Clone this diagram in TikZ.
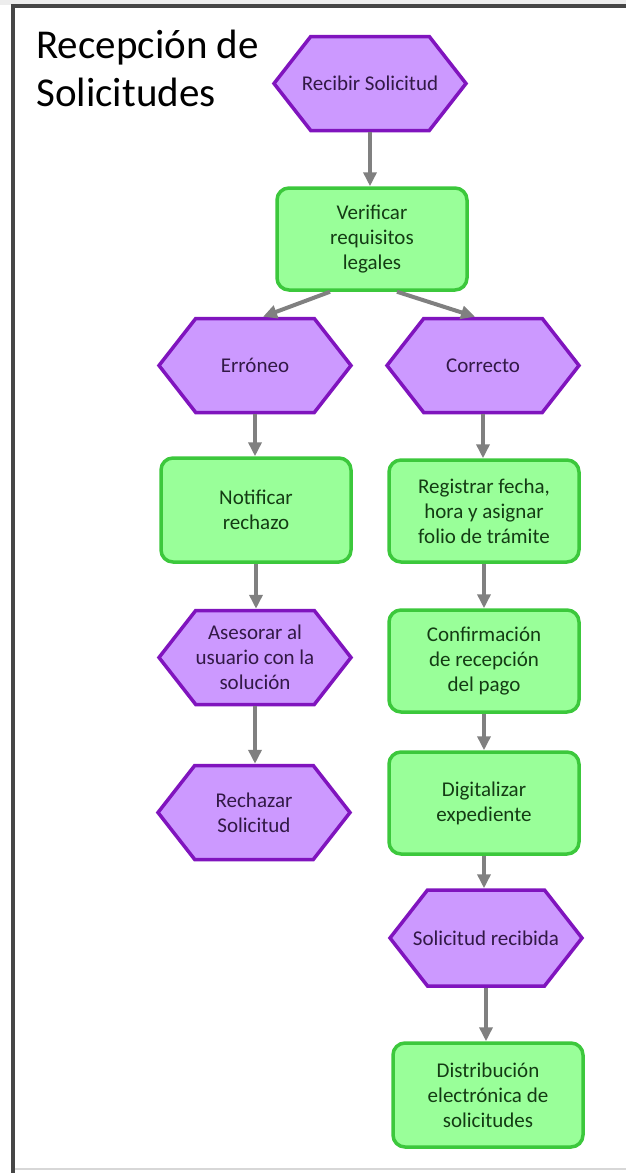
\documentclass[tikz,border=0pt]{standalone}
\usepackage{fontspec}
\setmainfont{Carlito}
\usetikzlibrary{shapes.symbols,arrows.meta}
\definecolor{hexfill}{RGB}{204,153,255}
\definecolor{hexline}{RGB}{128,20,190}
\definecolor{hextext}{RGB}{50,25,70}
\definecolor{boxfill}{RGB}{153,255,153}
\definecolor{boxline}{RGB}{60,200,60}
\definecolor{boxtext}{RGB}{20,60,20}
\definecolor{arrgray}{RGB}{128,128,128}
\definecolor{framegray}{RGB}{70,70,70}
\definecolor{stripgray}{RGB}{237,237,237}
\definecolor{lightline}{RGB}{215,215,215}
\begin{document}
\begin{tikzpicture}[x=0.5pt,y=-0.5pt,
  hexnode/.style={signal, signal to=east and west, signal pointer angle=104,
    draw=hexline, fill=hexfill, line width=1.75pt, text=hextext,
    minimum width=96pt, minimum height=47pt, inner sep=0pt, align=center,
    font=\fontsize{10.5}{12.5}\selectfont},
  boxnode/.style={rectangle, rounded corners=6pt, draw=boxline, fill=boxfill,
    line width=1.75pt, text=boxtext, minimum width=95pt, minimum height=51pt,
    inner sep=0pt, align=center, font=\fontsize{10.5}{12.5}\selectfont},
  arr/.style={draw=arrgray, line width=2pt, -{Triangle[width=6.5pt,length=7pt]}},
  titletext/.style={anchor=north west, inner sep=0pt, align=left,
    font=\fontsize{20.5}{24}\selectfont, text=black}]
\useasboundingbox (0,0) rectangle (626,1173);
\fill[white] (0,0) rectangle (626,1173);
\fill[stripgray] (0,0) rectangle (626,5);
\draw[lightline, line width=1pt] (15,1169) -- (626,1169);
\draw[framegray, line width=1.7pt] (13,1173) -- (13,6) -- (626,6);

\node[titletext] (title) at (36,30) {Recepción de\\Solicitudes};

\node[hexnode] (rec) at (370,83.5) {\makebox[40pt]{Recibir Solicitud}};
\node[boxnode] (ver) at (372,239) {Verificar\\requisitos\\legales};
\node[hexnode] (err) at (255,365.5) {Erróneo};
\node[hexnode] (cor) at (483,365.5) {Correcto};
\node[boxnode, minimum height=52pt] (not) at (256,510) {Notificar\\rechazo};
\node[boxnode] (reg) at (484,511) {Registrar fecha,\\hora y asignar\\folio de trámite};
\node[hexnode] (ase) at (255,657.5) {Asesorar al\\\makebox[40pt]{usuario con la}\\solución};
\node[boxnode] (con) at (484,661) {Confirmación\\de recepción\\del pago};
\node[hexnode] (rch) at (254,812.5) {Rechazar\\Solicitud};
\node[boxnode] (dig) at (484,803) {Digitalizar\\expediente};
\node[hexnode, minimum height=48pt] (sol) at (486,938) {\makebox[40pt]{Solicitud recibida}};
\node[boxnode, minimum height=52pt] (dis) at (488,1095) {Distribución\\electrónica de\\solicitudes};

\draw[arr] (rec.south) -- (ver.north -| rec.south);
\draw[arr] ([xshift=-21pt]ver.south) -- ([xshift=4pt]err.north);
\draw[arr] ([xshift=12.5pt]ver.south) -- ([xshift=-4pt]cor.north);
\draw[arr] (err.south) -- (not.north -| err.south);
\draw[arr] (cor.south) -- (reg.north -| cor.south);
\draw[arr] (not.south) -- (ase.north -| not.south);
\draw[arr] (reg.south) -- (con.north);
\draw[arr] (ase.south) -- (rch.north -| ase.south);
\draw[arr] (con.south) -- (dig.north);
\draw[arr] (dig.south) -- (sol.north -| dig.south);
\draw[arr] (sol.south) -- (dis.north -| sol.south);
\end{tikzpicture}
\end{document}
